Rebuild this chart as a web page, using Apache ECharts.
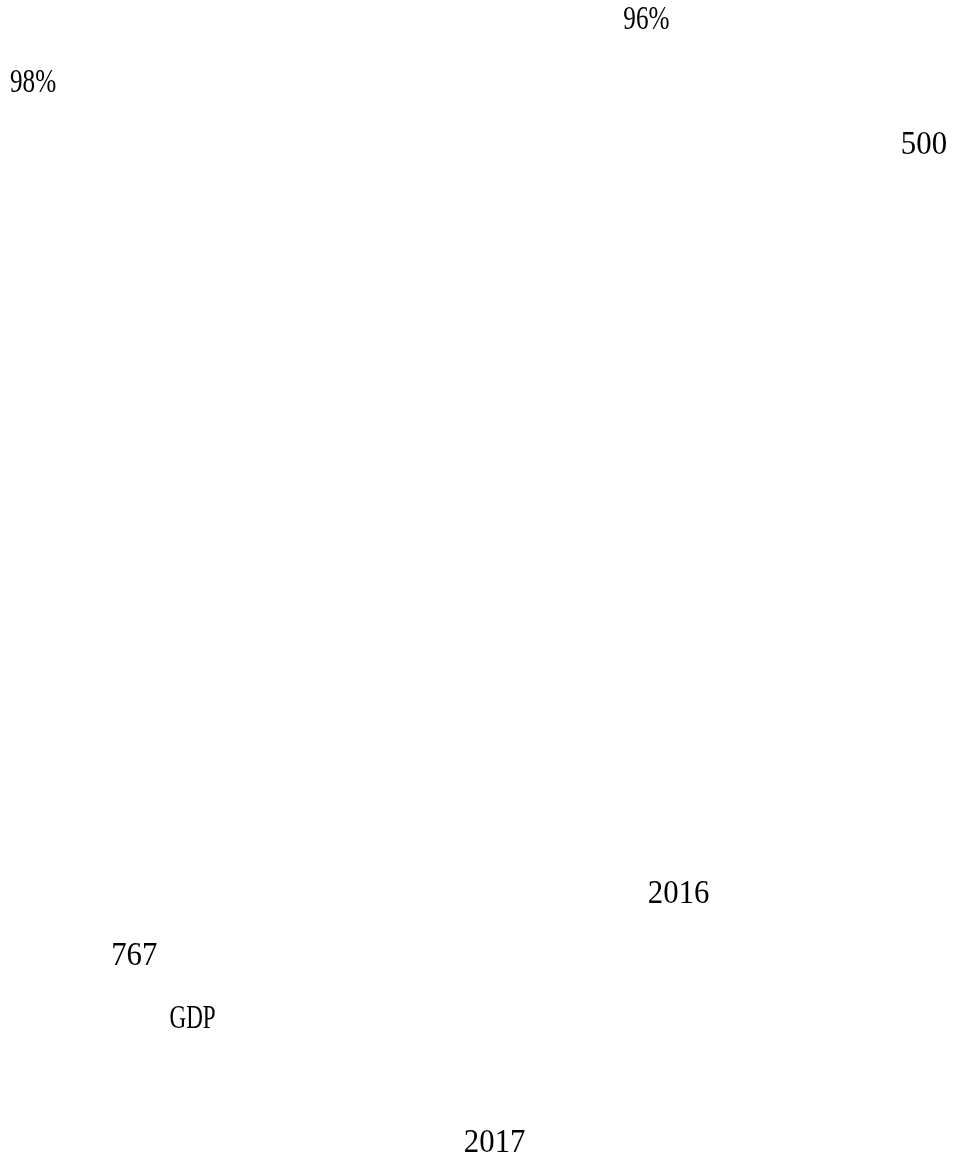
<!DOCTYPE html>
<html>
<head>
<meta charset="utf-8">
<title>page</title>
<script src="https://cdn.jsdelivr.net/npm/echarts@6/dist/echarts.min.js"></script>
<style>
    html, body { margin: 0; padding: 0; background: #fff; }
    #page { width: 954px; height: 1162px; }
</style>
</head>
<body>
<div id="page"></div>
<script>
// the only readable bits of the page: text, line number, start column (half-width chars)
var texts = ['96%', '98%', '500', '2016', '767', 'GDP', '2017'];
var lines = [0, 1, 2, 14, 15, 16, 18];
var columns = [40, 0, 58.1, 41.6, 6.6, 10.4, 29.6];

var CHAR_W = 15.4;
var FONT = '33px "Liberation Serif", serif';

var ctx = document.createElement('canvas').getContext('2d');
ctx.font = FONT;

var page = echarts.init(document.getElementById('page'));

page.setOption({
    backgroundColor: '#fff',
    animation: false,
    grid: { left: 10, right: 24, top: 20.5, bottom: 18.3 },
    xAxis: { type: 'value', min: 0, max: 60, show: false },
    yAxis: { type: 'value', min: 0, max: 18, inverse: true, show: false },
    series: [
        {
            type: 'custom',
            data: texts.map(function (t, i) { return [columns[i], lines[i], t]; }),
            renderItem: function (params, api) {
                var pt = api.coord([api.value(0), api.value(1)]);
                var str = texts[params.dataIndex];
                // half-width glyphs in the original, so squeeze to fixed width
                var sx = (str.length * CHAR_W) / ctx.measureText(str).width;
                return {
                    type: 'text',
                    x: pt[0],
                    y: pt[1],
                    scaleX: sx,
                    style: {
                        text: str,
                        font: FONT,
                        fill: '#000',
                        textAlign: 'left',
                        textVerticalAlign: 'middle'
                    }
                };
            }
        }
    ]
});
</script>
</body>
</html>
